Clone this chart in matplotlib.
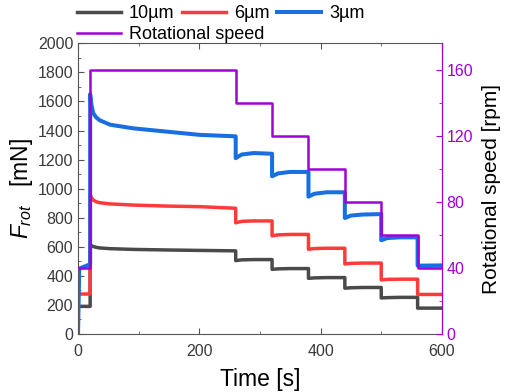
import matplotlib.pyplot as plt
from matplotlib.ticker import MultipleLocator

plt.rcParams.update({
    "font.family": "Liberation Sans",
    "mathtext.fontset": "custom",
    "mathtext.rm": "Liberation Sans",
    "mathtext.it": "Liberation Sans:italic",
})

# ---- data ----
time = [0, 2, 20, 20, 22, 25, 30, 36, 53, 91, 147, 201, 260,
        260, 270, 290, 320, 320, 330, 350, 380, 380, 390, 410, 440,
        440, 450, 470, 500, 500, 510, 530, 560, 560, 600]

f_10um = [190, 190, 190, 615, 608, 602, 596, 592, 587, 582, 578, 575, 572,
          505, 510, 512, 512, 445, 448, 450, 450, 383, 386, 388, 388,
          315, 318, 320, 320, 248, 250, 252, 252, 178, 178]
f_6um = [275, 275, 275, 960, 940, 922, 910, 903, 895, 887, 880, 876, 865,
         765, 775, 778, 778, 675, 682, 685, 685, 583, 588, 590, 590,
         482, 486, 488, 488, 372, 376, 377, 377, 272, 272]
f_3um = [0, 450, 480, 1650, 1580, 1520, 1490, 1470, 1440, 1415, 1392, 1370, 1360,
         1210, 1235, 1245, 1240, 1085, 1105, 1115, 1115, 945, 965, 975, 975,
         798, 815, 822, 825, 645, 660, 665, 665, 470, 472]

speed_time = [0, 20, 20, 260, 260, 320, 320, 380, 380, 440, 440, 500, 500, 560, 560, 600]
speed_rpm = [40, 40, 160, 160, 140, 140, 120, 120, 100, 100, 80, 80, 60, 60, 40, 40]

GRAY = "#4a4a4a"
RED = "#ff3a3a"
BLUE = "#1a6fe0"
PURPLE = "#a100d6"
SPINE = "#555555"
TICKTXT = "#3a3a3a"

fig = plt.figure(figsize=(5.05, 3.92), dpi=100)
ax = fig.add_axes([0.1545, 0.148, 0.7205, 0.7415])

l10, = ax.plot(time, f_10um, color=GRAY, lw=2.5, label="10µm")
l6, = ax.plot(time, f_6um, color=RED, lw=2.5, label="6µm")
l3, = ax.plot(time, f_3um, color=BLUE, lw=2.9, label="3µm")

ax.set_xlim(0, 600)
ax.set_ylim(0, 2000)
ax.xaxis.set_major_locator(MultipleLocator(200))
ax.xaxis.set_minor_locator(MultipleLocator(100))
ax.yaxis.set_major_locator(MultipleLocator(200))
ax.yaxis.set_minor_locator(MultipleLocator(100))
ax.tick_params(which="both", direction="in", top=True, colors=SPINE,
               labelcolor=TICKTXT, labelsize=11.5)
ax.tick_params(axis="x", which="major", pad=7)
ax.tick_params(which="major", length=4)
ax.tick_params(which="minor", length=2.5)
for s in ["left", "bottom", "top"]:
    ax.spines[s].set_color(SPINE)
ax.set_xlabel("Time [s]", fontsize=16.5, labelpad=7)
ax.set_ylabel(r"$F_{rot}$   [mN]", fontsize=16.5, labelpad=2)

ax2 = ax.twinx()
lsp, = ax2.plot(speed_time, speed_rpm, color=PURPLE, lw=1.8, label="Rotational speed")
ax2.set_ylim(0, 176)
ax2.yaxis.set_major_locator(MultipleLocator(40))
ax2.yaxis.set_minor_locator(MultipleLocator(20))
ax2.tick_params(which="both", direction="in", colors=PURPLE,
                labelcolor=PURPLE, labelsize=11.5)
ax2.tick_params(which="major", length=4)
ax2.tick_params(which="minor", length=2.5)
ax2.spines["right"].set_color(PURPLE)
for s in ["left", "bottom", "top"]:
    ax2.spines[s].set_visible(False)
ax2.set_ylabel("Rotational speed [rpm]", fontsize=15, labelpad=6)

leg_kw = dict(frameon=False, fontsize=13, handlelength=2.4, handletextpad=0.45,
              borderpad=0, borderaxespad=0, columnspacing=0.45)
fig.legend([l10, l6, l3], ["10µm", "6µm", "3µm"], loc="center left",
           bbox_to_anchor=(0.153, 0.965), ncol=3, **leg_kw)
fig.legend([lsp], ["Rotational speed"], loc="center left",
           bbox_to_anchor=(0.153, 0.912), **leg_kw)

fig.savefig("out.png", dpi=100)
